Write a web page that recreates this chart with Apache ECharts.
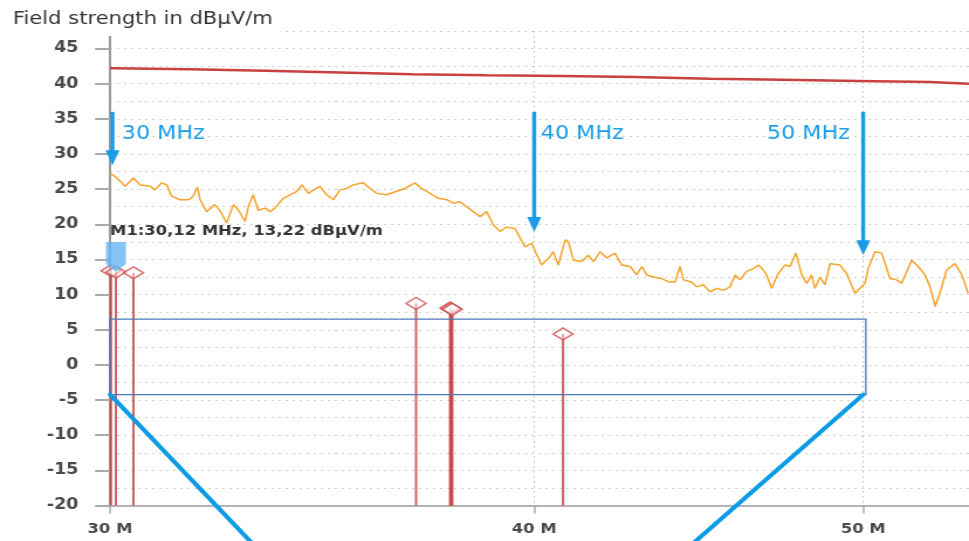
<!DOCTYPE html>
<html><head><meta charset="utf-8">
<script src="https://cdn.jsdelivr.net/npm/echarts@6/dist/echarts.min.js"></script>
<style>
html,body{margin:0;padding:0;background:#fff;overflow:hidden;}
#wrap{width:969px;height:541px;overflow:hidden;position:relative;}
#c{width:828px;height:541px;transform:scaleX(1.17029);transform-origin:0 0;}
</style></head><body>
<div id="wrap"><div id="c"></div></div>
<script>
// ---------- data ----------
const xTicksMHz = [30, 40, 50];
const yTicks = [-20, -15, -10, -5, 0, 5, 10, 15, 20, 25, 30, 35, 40, 45];

const limitMHz = [30.00, 30.05, 31.67, 33.33, 35.06, 36.82, 38.74, 40.73, 42.83, 45.06, 47.36, 49.82, 52.32, 53.72];
const limitDb  = [42.2, 42.05, 41.85, 41.6, 41.35, 41.2, 41.1, 40.95, 40.7, 40.55, 40.4, 40.25, 40.0, 40.0];

const traceMHz = [30.00, 30.14, 30.31, 30.48, 30.62, 30.83, 30.93, 31.07, 31.18, 31.28, 31.46, 31.64, 31.74, 31.83, 31.89,
  32.03, 32.21, 32.32, 32.47, 32.62, 32.73, 32.88, 32.95, 33.06, 33.17, 33.33, 33.44, 33.55, 33.74, 33.90,
  34.05, 34.17, 34.32, 34.44, 34.59, 34.75, 34.91, 35.06, 35.22, 35.38, 35.62, 35.79, 35.95, 36.19, 36.44, 36.64, 36.89,
  37.06, 37.27, 37.48, 37.70, 37.87, 38.04, 38.21, 38.38, 38.56, 38.73, 38.91, 39.08, 39.26, 39.48, 39.75, 39.93,
  40.20, 40.43, 40.52, 40.66, 40.85, 40.94, 41.08, 41.31, 41.50, 41.64, 41.83, 42.02, 42.25, 42.45, 42.69, 42.88,
  43.03, 43.17, 43.37, 43.61, 43.81, 44.01, 44.16, 44.26, 44.51, 44.66, 44.86, 45.07, 45.27, 45.47, 45.68, 45.84, 45.99,
  46.20, 46.41, 46.57, 46.73, 46.83, 46.99, 47.20, 47.42, 47.58, 47.77, 47.96, 48.12, 48.28, 48.39, 48.56, 48.72, 48.89,
  49.22, 49.44, 49.72, 49.89, 50.06, 50.17, 50.40, 50.63, 50.92, 51.15, 51.32, 51.50, 51.67, 51.90,
  52.14, 52.32, 52.50, 52.67, 52.91, 53.21, 53.46, 53.69];
const traceDb = [27.3, 26.6, 25.4, 26.6, 25.6, 25.4, 24.9, 25.9, 25.6, 24.0, 23.5, 23.5, 24.0, 25.3, 23.5,
  21.8, 22.8, 22.0, 20.2, 22.8, 22.0, 20.4, 22.5, 24.2, 22.0, 22.3, 21.8, 22.3, 23.7, 24.2,
  24.7, 25.6, 24.4, 24.9, 25.4, 24.2, 23.5, 24.9, 25.1, 25.6, 25.9, 25.1, 24.4, 24.2, 24.7, 25.1, 25.9,
  25.1, 24.4, 23.7, 23.5, 23.0, 23.2, 22.5, 21.8, 21.1, 21.8, 19.9, 19.0, 19.6, 19.4, 16.8, 17.3,
  14.2, 15.4, 16.1, 14.2, 17.8, 17.5, 14.9, 14.7, 15.6, 14.7, 16.1, 15.2, 15.9, 14.2, 14.0, 12.8,
  14.0, 12.8, 12.5, 12.3, 11.8, 11.8, 14.0, 12.1, 11.8, 11.1, 11.4, 10.4, 10.9, 10.6, 11.1, 12.8, 12.1,
  13.3, 13.7, 14.2, 13.5, 12.8, 10.9, 13.0, 14.2, 14.0, 15.9, 12.8, 11.6, 12.8, 10.9, 12.5, 11.4, 14.4,
  14.2, 13.0, 10.2, 10.9, 11.6, 13.7, 16.1, 15.9, 12.3, 12.1, 11.6, 13.3, 14.9, 14.0,
  12.8, 11.1, 8.3, 10.2, 13.5, 14.4, 12.8, 10.2];

const peakMHz = [30.02, 30.12, 30.48, 36.92, 37.78, 37.81, 37.84, 40.79];
const peakDb  = [13.4, 13.22, 13.1, 8.75, 8.1, 8.0, 7.9, 4.4];

const markerMHz = 30.12;
const markerDb = 13.22;
const markerText = 'M1:30,12 MHz, 13,22 dBµV/m';

const arrowMHz = [30.05, 40.0, 50.0];
const arrowTopDb = [36, 36, 36];
const arrowTipDb = [28.4, 18.9, 15.6];
const arrowText = ['30 MHz', '40 MHz', '50 MHz'];
const arrowTextMHz = [30.24, 40.18, 49.55];
const arrowTextDb = [32.9, 32.9, 32.9];

const boxMHz = [30, 50.09];
const boxDb = [6.52, -4.22];
const calloutFromMHz = [30, 50];
const calloutFromDb = [-4.22, -4.22];
const calloutToMHz = [33.07, 44.5];
const calloutToDb = [-25.6, -25.6];

// ---------- chart ----------
const lg = Math.log10;
const FONT = 'DejaVu Sans';
const BLUE = '#1a9de6';
const X_MIN = lg(30), X_MAX = lg(53.72);
const Y_MIN = -20, Y_MAX = 47.5;

const chart = echarts.init(document.getElementById('c'), null, {renderer: 'canvas'});

const textItems = arrowText.map((t, i) => [lg(arrowTextMHz[i]), arrowTextDb[i], i]);
textItems.push([lg(30), 19.0, 3]);
const textLabels = arrowText.concat([markerText]);

const option = {
  animation: false,
  backgroundColor: '#fff',
  title: {
    text: 'Field strength in dBµV/m', left: 0, top: 0,
    padding: [10, 6, 8, 11], backgroundColor: '#fff',
    textStyle: {fontFamily: FONT, fontSize: 18, fontWeight: 'normal', color: '#333'}
  },
  grid: {left: 94, right: 0, top: 31, bottom: 35.5},
  xAxis: {
    type: 'value', min: X_MIN, max: X_MAX,
    axisLine: {onZero: false, lineStyle: {color: '#b4b4b4', width: 2}},
    axisTick: {customValues: xTicksMHz.map(lg), length: 8, lineStyle: {color: '#aaa', width: 1.5}},
    axisLabel: {customValues: xTicksMHz.map(lg), formatter: v => Math.round(Math.pow(10, v)) + ' M',
      margin: 17, fontFamily: FONT, fontSize: 14, fontWeight: 'bold', color: '#4a4a4a'},
    splitLine: {show: true, lineStyle: {type: [1.5, 3.5], color: '#bdbdbd', width: 1}}
  },
  yAxis: [
    {type: 'value', min: Y_MIN, max: Y_MAX, interval: 2.5,
      axisLine: {show: false}, axisTick: {show: false}, axisLabel: {show: false},
      splitLine: {show: true, lineStyle: {type: [2, 4], color: '#cfcfcf', width: 1}}},
    {type: 'value', min: Y_MIN, max: Y_MAX, interval: 5, position: 'left',
      axisLine: {show: true, onZero: false, lineStyle: {color: '#999', width: 2}},
      axisTick: {show: true, customValues: yTicks, length: 12.8, lineStyle: {color: '#aaa', width: 2}},
      axisLabel: {customValues: yTicks, margin: 27, fontFamily: FONT, fontSize: 15, fontWeight: 'bold', color: '#4a4a4a'},
      splitLine: {show: false}}
  ],
  series: [
    {name: 'Limit', type: 'line', step: 'end', showSymbol: false, z: 3,
      data: limitMHz.map((f, i) => [lg(f), limitDb[i]]),
      lineStyle: {color: '#c9413f', width: 2.5}},
    {name: 'Trace', type: 'line', showSymbol: false, z: 3,
      data: traceMHz.map((f, i) => [lg(f), traceDb[i]]),
      lineStyle: {color: '#f6a42c', width: 1.5}},
    {name: 'Stems', type: 'custom', z: 4, clip: false,
      data: peakMHz.map((f, i) => [lg(f), peakDb[i]]),
      renderItem: (p, api) => {
        const a = api.coord([api.value(0), Y_MIN]), b = api.coord([api.value(0), api.value(1)]);
        return {type: 'line', shape: {x1: a[0], y1: a[1], x2: b[0], y2: b[1]},
          style: {stroke: 'rgba(196,46,46,0.75)', lineWidth: 2}};
      }},
    {name: 'Peaks', type: 'scatter', z: 5, symbol: 'diamond', symbolSize: [17, 12],
      data: peakMHz.map((f, i) => [lg(f), peakDb[i]]),
      itemStyle: {color: 'rgba(255,255,255,0.55)', borderColor: '#cf4848', borderWidth: 1.5}},
    {name: 'Box', type: 'custom', z: 6, clip: false,
      data: [[lg(boxMHz[0]), lg(boxMHz[1]), boxDb[0], boxDb[1]]],
      renderItem: (p, api) => {
        const a = api.coord([api.value(0), api.value(2)]), b = api.coord([api.value(1), api.value(3)]);
        return {type: 'rect', shape: {x: a[0], y: a[1], width: b[0] - a[0], height: b[1] - a[1]},
          style: {fill: 'none', stroke: '#4a7bb7', lineWidth: 1.3}};
      }},
    {name: 'Marker', type: 'scatter', z: 7,
      symbol: 'path://M0,0 L20,0 L20,22 L10,30 L0,22 Z', symbolSize: [17, 30], symbolOffset: [0, '-50%'],
      data: [[lg(markerMHz), markerDb]], itemStyle: {color: '#66b7f2'}},
    {name: 'Callouts', type: 'custom', z: 8, clip: false,
      data: calloutFromMHz.map((f, i) => [lg(f), calloutFromDb[i], lg(calloutToMHz[i]), calloutToDb[i]]),
      renderItem: (p, api) => {
        const a = api.coord([api.value(0), api.value(1)]), b = api.coord([api.value(2), api.value(3)]);
        return {type: 'line', shape: {x1: a[0], y1: a[1], x2: b[0], y2: b[1]},
          style: {stroke: '#0d9be6', lineWidth: 4, lineCap: 'round'}};
      }},
    {name: 'Arrows', type: 'custom', z: 8, clip: false,
      data: arrowMHz.map((f, i) => [lg(f), arrowTopDb[i], arrowTipDb[i]]),
      renderItem: (p, api) => {
        const a = api.coord([api.value(0), api.value(1)]), b = api.coord([api.value(0), api.value(2)]);
        const hw = 6, hh = 15;
        return {type: 'group', children: [
          {type: 'line', shape: {x1: a[0], y1: a[1], x2: b[0], y2: b[1] - hh + 1}, style: {stroke: BLUE, lineWidth: 3.4}},
          {type: 'polygon', shape: {points: [[b[0] - hw, b[1] - hh], [b[0] + hw, b[1] - hh], [b[0], b[1]]]}, style: {fill: BLUE}}
        ]};
      }},
    {name: 'Texts', type: 'custom', z: 9, clip: false,
      data: textItems,
      renderItem: (p, api) => {
        const idx = api.value(2);
        const c = api.coord([api.value(0), api.value(1)]);
        const isMarker = idx === 3;
        return {type: 'text', x: c[0], y: c[1], style: {
          text: textLabels[idx],
          fill: isMarker ? '#333' : BLUE,
          fontFamily: FONT,
          fontSize: isMarker ? 14 : 19,
          fontWeight: isMarker ? 'bold' : 'normal',
          align: idx === 2 ? 'right' : 'left',
          verticalAlign: 'middle'
        }};
      }}
  ]
};
chart.setOption(option);
</script>
</body></html>
